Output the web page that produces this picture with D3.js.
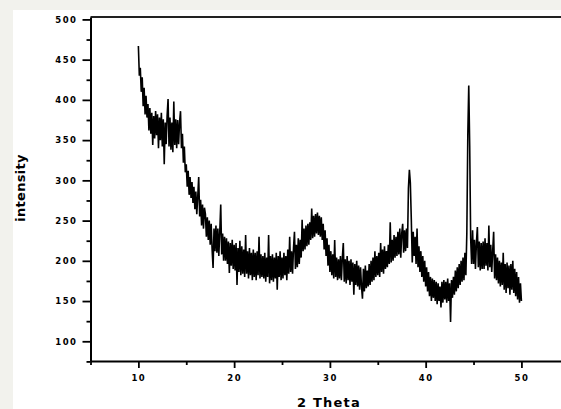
<!DOCTYPE html>
<html>
<head>
<meta charset="utf-8">
<script src="https://cdn.jsdelivr.net/npm/d3@7"></script>
<style>
  body { margin: 0; background: #f2f2ed; }
  text { font-family: "DejaVu Sans", sans-serif; font-weight: bold; fill: #000; }
</style>
</head>
<body>
<div id="chart"></div>
<script>
// scan: first angle and step (degrees 2 theta)
var startAngle = 10, stepAngle = 0.1;

// intensity, one row per degree (10.0 .. 50.0)
var intensity = [
  467, 430, 440, 410, 428, 392, 415, 382, 405, 378,
  395, 362, 390, 358, 384, 344, 380, 352, 386, 356,
  382, 340, 378, 350, 384, 342, 376, 320, 372, 345,
  380, 401, 342, 378, 338, 372, 335, 398, 344, 376,
  340, 375, 345, 372, 386, 340, 358, 322, 342, 310,
  320, 292, 312, 282, 304, 278, 298, 272, 292, 264,
  286, 258, 280, 304, 255, 276, 244, 270, 240, 266,
  258, 230, 254, 226, 250, 220, 246, 214, 191, 240,
  212, 244, 210, 240, 206, 236, 270, 208, 234, 200,
  230, 200, 228, 196, 224, 185, 222, 194, 226, 190,
  220, 188, 222, 170, 216, 186, 225, 182, 218, 184,
  214, 180, 232, 184, 212, 178, 216, 182, 210, 176,
  214, 180, 210, 176, 212, 182, 230, 178, 208, 180,
  206, 178, 210, 174, 204, 180, 232, 172, 206, 176,
  208, 174, 204, 178, 210, 164, 206, 180, 212, 176,
  204, 178, 210, 182, 206, 176, 214, 184, 230, 186,
  212, 184, 216, 236, 190, 220, 192, 228, 196, 226,
  204, 251, 212, 240, 214, 244, 218, 246, 220, 248,
  226, 265, 228, 256, 230, 258, 234, 260, 232, 256,
  230, 254, 226, 246, 214, 238, 206, 228, 194, 220,
  186, 212, 182, 208, 178, 226, 180, 204, 176, 202,
  178, 206, 176, 204, 222, 174, 202, 172, 206, 176,
  200, 170, 202, 174, 198, 158, 196, 170, 200, 168,
  194, 164, 192, 168, 153, 190, 162, 194, 166, 188,
  168, 196, 170, 200, 174, 204, 176, 212, 180, 206,
  182, 210, 180, 222, 186, 214, 184, 218, 190, 212,
  192, 220, 196, 248, 198, 226, 200, 232, 204, 230,
  206, 236, 208, 240, 204, 234, 246, 210, 238, 212,
  240, 216, 290, 313, 297, 252, 198, 236, 206, 230,
  196, 240, 192, 218, 186, 212, 180, 206, 174, 200,
  168, 192, 162, 186, 156, 180, 150, 178, 154, 176,
  150, 174, 146, 172, 150, 168, 142, 174, 148, 176,
  152, 174, 148, 178, 150, 172, 124, 176, 154, 180,
  158, 188, 162, 192, 166, 196, 170, 200, 174, 204,
  176, 210, 182, 235, 355, 418, 342, 228, 196, 238,
  196, 226, 190, 222, 242, 192, 224, 188, 222, 190,
  224, 190, 228, 194, 222, 188, 244, 192, 220, 186,
  212, 236, 178, 208, 176, 204, 172, 200, 168, 198,
  170, 210, 164, 196, 160, 198, 166, 194, 158, 196,
  164, 200, 160, 190, 156, 186, 152, 180, 148, 172,
  150
];

var xTicks = [10, 20, 30, 40, 50];
var xMinorTicks = [5, 15, 25, 35, 45, 55];
var yTicks = [100, 150, 200, 250, 300, 350, 400, 450, 500];
var yMinorTicks = [75, 125, 175, 225, 275, 325, 375, 425, 475];

var width = 561, height = 409;

var svg = d3.select("#chart")
  .append("svg")
    .attr("width", width)
    .attr("height", height);

// white panel
svg.append("rect")
  .attr("x", 13).attr("y", 10)
  .attr("width", width - 13).attr("height", height - 10)
  .attr("fill", "#fff");

var x = d3.scaleLinear()
  .domain([5, 55])
  .range([90.5, 569.3]);

var y = d3.scaleLinear()
  .domain([75.5, 503])
  .range([361, 17]);

// the trace
var line = d3.line()
  .x(function(d, i) { return x(startAngle + i * stepAngle); })
  .y(function(d) { return y(d); });

svg.append("path")
  .datum(intensity)
  .attr("fill", "none")
  .attr("stroke", "#000")
  .attr("stroke-width", 1.6)
  .attr("stroke-linejoin", "miter")
  .attr("stroke-miterlimit", 2)
  .attr("d", line);

// top frame line
svg.append("line")
  .attr("x1", x(5)).attr("x2", x(55))
  .attr("y1", y(503)).attr("y2", y(503))
  .attr("stroke", "#222").attr("stroke-width", 2);

// Y axis
svg.append("g")
  .attr("transform", "translate(" + x(5) + ",0)")
  .call(d3.axisLeft(y).tickValues(yTicks).tickSize(8).tickSizeOuter(0).tickPadding(5));
svg.append("g")
  .attr("transform", "translate(" + x(5) + ",0)")
  .call(d3.axisLeft(y).tickValues(yMinorTicks).tickSize(4).tickSizeOuter(0).tickFormat(""))
  .select(".domain").remove();

// X axis
svg.append("g")
  .attr("transform", "translate(0," + y(75.5) + ")")
  .call(d3.axisBottom(x).tickValues(xTicks).tickSize(7).tickSizeOuter(0).tickPadding(7));
svg.append("g")
  .attr("transform", "translate(0," + y(75.5) + ")")
  .call(d3.axisBottom(x).tickValues(xMinorTicks).tickSize(4).tickSizeOuter(0).tickFormat(""))
  .select(".domain").remove();

svg.selectAll(".domain").attr("stroke", "#000").attr("stroke-width", 2);
svg.selectAll(".tick line").attr("stroke", "#000").attr("stroke-width", 1.8);
svg.selectAll(".tick text")
  .style("font-family", "'DejaVu Sans', sans-serif")
  .style("font-weight", "bold")
  .style("font-size", "8.5px")
  .style("letter-spacing", "1.5px");

// axis titles
svg.append("text")
  .attr("x", 329).attr("y", 407)
  .attr("text-anchor", "middle")
  .style("font-size", "13px")
  .style("letter-spacing", "1.2px")
  .text("2 Theta");

svg.append("text")
  .attr("transform", "translate(25,188) rotate(-90)")
  .attr("text-anchor", "middle")
  .style("font-size", "13px")
  .style("letter-spacing", "0.3px")
  .text("intensity");
</script>
</body>
</html>
